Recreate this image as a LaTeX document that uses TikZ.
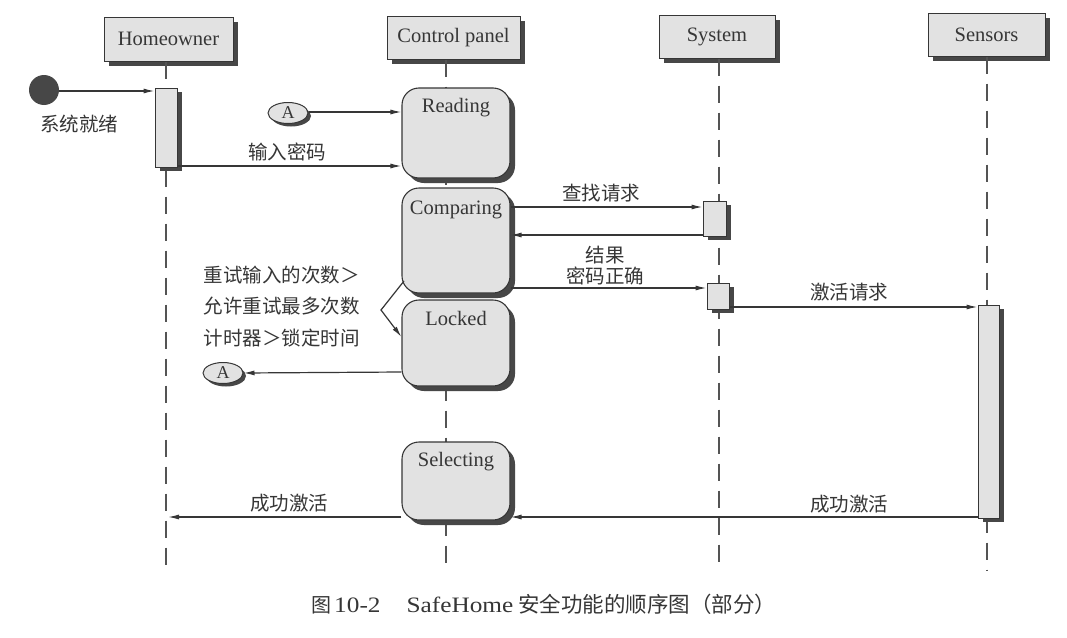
\documentclass[tikz,border=0pt]{standalone}
\usepackage{fontspec}
\setmainfont{Liberation Serif}
\newfontfamily\cjk{Noto Sans CJK SC}
\newfontfamily\capfont[FakeStretch=1.15]{Liberation Serif}
\usetikzlibrary{arrows.meta,shadows,shapes.geometric}
\definecolor{ink}{HTML}{363636}
\definecolor{boxfill}{HTML}{E2E2E2}
\definecolor{shade}{HTML}{474747}
\tikzset{
  shd/.style={drop shadow={shadow xshift=5pt,shadow yshift=-5pt,fill=shade,opacity=1}},
  head/.style={draw=ink,fill=boxfill,line width=1pt,shd,inner sep=0pt,
     font=\fontsize{20.5}{24}\selectfont,text=ink},
  statebox/.style={draw=ink,fill=boxfill,line width=1.1pt,shd,rounded corners=17pt,
     minimum width=108pt,inner sep=0pt},
  stlabel/.style={anchor=north,inner sep=0pt,font=\fontsize{20.5}{24}\selectfont,text=ink},
  actbox/.style={draw=ink,fill=boxfill,line width=1pt,
     drop shadow={shadow xshift=5pt,shadow yshift=-4pt,fill=shade,opacity=1},inner sep=0pt},
  conn/.style={draw=ink,fill=boxfill,ellipse,line width=1pt,minimum width=40pt,minimum height=21pt,
     inner sep=0pt,font=\fontsize{18}{20}\selectfont,text=ink,
     drop shadow={shadow xshift=3pt,shadow yshift=-3pt,fill=shade,opacity=1}},
  life/.style={draw=ink!85,line width=1.1pt,dash pattern=on 17pt off 10pt},
  msg/.style={draw=ink,line width=1.2pt,-{Latex[length=11pt,width=5pt]}},
  cjklabel/.style={inner sep=0pt,font=\cjk\fontsize{19.5}{24}\selectfont,text=ink}
}
\begin{document}
\begin{tikzpicture}[x=1pt,y=-1pt]
\fill[white] (0,0) rectangle (1067,637);
\useasboundingbox (0,0) rectangle (1067,637);

% lifeline ends
\coordinate (e1) at (166,570);
\coordinate (e2) at (446,570);
\coordinate (e3) at (719,570);
\coordinate (e4) at (987,570);

% heads
\node[head,minimum width=129pt,minimum height=44pt] (ho) at (168.5,39) {Homeowner};
\node[head,minimum width=133pt,minimum height=43pt] (cp) at (453.5,37.5) {Control panel};
\node[head,minimum width=116pt,minimum height=43pt] (sy) at (717,36.5) {System};
\node[head,minimum width=117pt,minimum height=43pt] (se) at (986.5,34.5) {Sensors};

% lifelines
\draw[life] (ho.south -| e1) -- (e1);
\draw[life] (cp.south -| e2) -- (e2);
\draw[life] (sy.south -| e3) -- (e3);
\draw[life] (se.south -| e4) -- (e4);

% message rows
\coordinate (m1) at (0,91);
\coordinate (m2) at (0,112);
\coordinate (m3) at (0,166);
\coordinate (m4) at (0,207);
\coordinate (m5) at (0,235);
\coordinate (m6) at (0,288);
\coordinate (m7) at (0,307);
\coordinate (m8) at (0,372);
\coordinate (m9) at (0,517);

% start dot
\node[circle,fill=shade,minimum size=30pt,inner sep=0pt] (dot) at (44,90) {};
\node[cjklabel] (t0) at (79,124) {系统就绪};

% activations
\node[actbox,minimum width=22pt,minimum height=79pt] (ha) at (166,127.5) {};
\node[actbox,minimum width=23pt,minimum height=35pt] (sa1) at (714.5,218.5) {};
\node[actbox,minimum width=22pt,minimum height=26pt] (sa2) at (718,296) {};
\node[actbox,minimum width=21pt,minimum height=213pt] (sna) at (988.5,411.5) {};

% states
\node[statebox,minimum height=90pt] (rd) at (456,133) {};
\node[stlabel] at ([yshift=-11pt]rd.north) {Reading};
\node[statebox,minimum height=105pt] (cmp) at (456,240.5) {};
\node[stlabel] at ([yshift=-13pt]cmp.north) {Comparing};
\node[statebox,minimum height=86pt] (lk) at (456,343) {};
\node[stlabel] at ([yshift=-12pt]lk.north) {Locked};
\node[statebox,minimum height=78pt] (sel) at (456,481) {};
\node[stlabel] at ([yshift=-11pt]sel.north) {Selecting};

% connectors A
\node[conn] (a1) at (288,113) {A};
\node[conn] (a2) at (223,373) {A};

% messages
\draw[msg] (dot.east |- m1) -- (ha.west |- m1);
\draw[msg] (a1.east |- m2) -- (rd.west |- m2);
\draw[msg] (ha.east |- m3) -- (rd.west |- m3);
\node[cjklabel] at (287,152) {输入密码};
\draw[msg] (cmp.east |- m4) -- (sa1.west |- m4);
\node[cjklabel] at (601,193) {查找请求};
\draw[msg] (sa1.west |- m5) -- (cmp.east |- m5);
\node[cjklabel] at (605,255) {结果};
\draw[msg] (cmp.east |- m6) -- (sa2.west |- m6);
\node[cjklabel] at (605,276) {密码正确};
\draw[msg] (sa2.east |- m7) -- (sna.west |- m7);
\node[cjklabel] at (849,292) {激活请求};
\draw[msg] (lk.west |- m8) -- (a2.east);
\draw[msg] (sel.west |- m9) -- ([xshift=2pt]e1 |- m9);
\node[cjklabel] at (289,503) {成功激活};
\draw[msg] (sna.west |- m9) -- (sel.east |- m9);
\node[cjklabel] at (849,504) {成功激活};

% guard
\coordinate (g1) at (404,281);
\coordinate (g2) at (381,310);
\coordinate (g3) at (0,337);
\draw[msg] (g1) -- (g2) -- (lk.west |- g3);
\node[cjklabel,align=left,font=\cjk\fontsize{19.5}{31.5}\selectfont] (guard) at (281.5,306.5)
  {重试输入的次数＞\\允许重试最多次数\\计时器＞锁定时间};

% caption
\node[inner sep=0pt,text=ink,anchor=west] (cap) at (311,604)
  {\cjk\fontsize{20}{22}\selectfont 图\hspace{3pt}\capfont\fontsize{22}{22}\selectfont 10-2\hspace{26pt}SafeHome\hspace{5pt}\cjk\fontsize{21.5}{22}\selectfont 安全功能的顺序图（部分）};
\end{tikzpicture}
\end{document}
